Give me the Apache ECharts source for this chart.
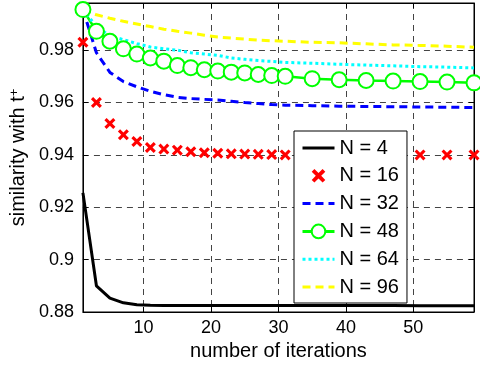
<!DOCTYPE html>
<html>
<head>
<meta charset="utf-8">
<script src="https://cdn.jsdelivr.net/npm/echarts@6/dist/echarts.min.js"></script>
<style>
html,body{margin:0;padding:0;background:#fff;}
#c{width:480px;height:368px;}
</style>
</head>
<body>
<div id="c"></div>
<script>
// iterations at which values are recorded
const iterations = [1,3,5,7,9,11,13,15,17,19,21,23,25,27,29,31,35,39,43,47,51,55,59];
const seriesNames = ['N = 4','N = 16','N = 32','N = 48','N = 64','N = 96'];
const simN4  = [0.9255,0.8900,0.8853,0.8835,0.8828,0.8826,0.8825,0.8825,0.8825,0.8825,0.8825,0.8825,0.8825,0.8825,0.8825,0.8825,0.8825,0.8825,0.8825,0.8825,0.8824,0.8824,0.8824];
const simN16 = [0.9830,0.9600,0.9520,0.9477,0.9451,0.9428,0.9422,0.9418,0.9412,0.9408,0.9406,0.9404,0.9403,0.9402,0.9401,0.9400,0.9400,0.9400,0.9400,0.9400,0.9400,0.9400,0.9400];
const simN32 = [0.9955,0.9790,0.9715,0.9680,0.9660,0.9643,0.9630,0.9620,0.9615,0.9612,0.9610,0.9605,0.9600,0.9596,0.9592,0.9590,0.9588,0.9586,0.9585,0.9584,0.9583,0.9582,0.9581];
const simN48 = [0.9955,0.9872,0.9834,0.9805,0.9785,0.9770,0.9758,0.9741,0.9733,0.9725,0.9720,0.9716,0.9713,0.9707,0.9703,0.9700,0.9691,0.9687,0.9684,0.9682,0.9680,0.9678,0.9675];
const simN64 = [0.9955,0.9890,0.9855,0.9840,0.9825,0.9812,0.9805,0.9800,0.9790,0.9785,0.9780,0.9770,0.9765,0.9760,0.9757,0.9753,0.9750,0.9746,0.9743,0.9740,0.9737,0.9735,0.9732];
const simN96 = [0.9955,0.9935,0.9922,0.9910,0.9900,0.9890,0.9880,0.9872,0.9865,0.9857,0.9850,0.9846,0.9842,0.9838,0.9836,0.9834,0.9830,0.9828,0.9824,0.9820,0.9818,0.9815,0.9811];
const xTicks = [10,20,30,40,50];
const yTicks = [0.88,0.9,0.92,0.94,0.96,0.98];

function pairs(ys){ return iterations.map((x,i)=>[x,ys[i]]); }

const FONT = 'Liberation Sans';
const xMarker = 'path://M0,2L2,0L5,3L8,0L10,2L7,5L10,8L8,10L5,7L2,10L0,8L3,5Z';
const gridLine = {show:true, lineStyle:{color:'#444', width:1, type:[6,5]}};
const noSym = {opacity:0};

const chart = echarts.init(document.getElementById('c'), null, {renderer:'canvas'});
chart.setOption({
  animation:false,
  backgroundColor:'#fff',
  textStyle:{fontFamily:FONT},
  grid:{left:82, right:6, top:3, bottom:56, show:true, borderColor:'#000', borderWidth:1, backgroundColor:'transparent'},
  legend:{
    orient:'vertical', left:294, top:131,
    padding:[7,8,6,7], itemGap:7.8, itemWidth:32, itemHeight:17,
    backgroundColor:'#fff', borderColor:'#000', borderWidth:1,
    lineStyle:{width:3},
    textStyle:{fontFamily:FONT, fontSize:20, color:'#000', lineHeight:20},
    data:[
      {name:seriesNames[0], itemStyle:noSym},
      {name:seriesNames[1]},
      {name:seriesNames[2], itemStyle:noSym},
      {name:seriesNames[3]},
      {name:seriesNames[4], itemStyle:noSym},
      {name:seriesNames[5], itemStyle:noSym}
    ]
  },
  xAxis:[{
    type:'value', min:1, max:59,
    name:'number of iterations', nameLocation:'middle', nameGap:28,
    nameTextStyle:{fontFamily:FONT, fontSize:20, color:'#000'},
    axisLine:{show:true, lineStyle:{color:'#000', width:1}},
    axisTick:{show:true, inside:true, length:5, customValues:xTicks, lineStyle:{color:'#000'}},
    axisLabel:{customValues:xTicks, fontFamily:FONT, fontSize:18, color:'#000', margin:7},
    splitLine:gridLine
  },{
    type:'value', min:1, max:59, position:'top',
    axisLine:{show:true, lineStyle:{color:'#000', width:1}},
    axisTick:{show:true, inside:true, length:5, customValues:xTicks, lineStyle:{color:'#000'}},
    axisLabel:{show:false}, splitLine:{show:false}
  }],
  yAxis:[{
    type:'value', min:0.88, max:0.998,
    name:'{a|similarity with t}{b|+}', nameLocation:'middle', nameGap:52,
    nameTextStyle:{fontFamily:FONT, fontSize:20, color:'#000',
      rich:{a:{fontFamily:FONT, fontSize:20, color:'#000'}, b:{fontFamily:FONT, fontSize:13, color:'#000', verticalAlign:'top'}}},
    axisLine:{show:true, lineStyle:{color:'#000', width:1}},
    axisTick:{show:true, inside:true, length:5, customValues:yTicks, lineStyle:{color:'#000'}},
    axisLabel:{customValues:yTicks, fontFamily:FONT, fontSize:18, color:'#000', margin:9},
    splitLine:gridLine
  },{
    type:'value', min:0.88, max:0.998, position:'right',
    axisLine:{show:true, lineStyle:{color:'#000', width:1}},
    axisTick:{show:true, inside:true, length:5, customValues:yTicks, lineStyle:{color:'#000'}},
    axisLabel:{show:false}, splitLine:{show:false}
  }],
  series:[
    {name:seriesNames[0], type:'line', data:pairs(simN4), symbol:'none', lineStyle:{color:'#000', width:3}, itemStyle:{color:'#000'}},
    {name:seriesNames[1], type:'line', data:pairs(simN16), symbol:xMarker, symbolSize:11, showSymbol:true,
      lineStyle:{color:'#ff0000', width:0, opacity:0}, itemStyle:{color:'#ff0000', opacity:1}},
    {name:seriesNames[2], type:'line', data:pairs(simN32), symbol:'none', lineStyle:{color:'#0000ff', width:3, type:[8,5]}, itemStyle:{color:'#0000ff'}},
    {name:seriesNames[3], type:'line', data:pairs(simN48), symbol:'emptyCircle', symbolSize:15, showSymbol:true,
      lineStyle:{color:'#00ff00', width:2.5}, itemStyle:{color:'#00ff00', borderColor:'#00ff00', borderWidth:2.5}},
    {name:seriesNames[4], type:'line', data:pairs(simN64), symbol:'none', lineStyle:{color:'#00ffff', width:3, type:[3,3]}, itemStyle:{color:'#00ffff'}},
    {name:seriesNames[5], type:'line', data:pairs(simN96), symbol:'none', lineStyle:{color:'#ffff00', width:3, type:[8,5]}, itemStyle:{color:'#ffff00'}}
  ]
});
</script>
</body>
</html>
